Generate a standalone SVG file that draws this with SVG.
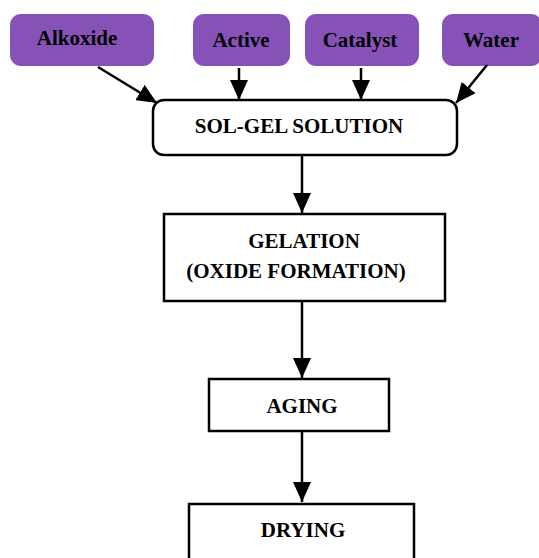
<svg xmlns="http://www.w3.org/2000/svg" width="539" height="558" viewBox="0 0 539 558">
<style>
.in{fill:#8652b7;stroke:none}
.box{fill:#fff;stroke:#000;stroke-width:2.5}
text{font-family:"Liberation Serif","Times New Roman",serif;font-weight:bold;font-size:21px;fill:#000;text-anchor:middle}
.c line{stroke:#000;stroke-width:2.5}
</style>
<defs>
<marker id="ah" markerUnits="userSpaceOnUse" markerWidth="22" markerHeight="18" refX="20" refY="9" orient="auto">
<path d="M0,0 L20,9 L0,18 Z" fill="#000"/>
</marker>
</defs>
<rect width="539" height="558" fill="#fff"/>
<g id="alkoxide"><rect class="in" x="10" y="14" width="144" height="52" rx="11"/><text x="77" y="45">Alkoxide</text></g>
<g id="active"><rect class="in" x="193" y="14" width="97" height="52" rx="11"/><text x="241" y="47">Active</text></g>
<g id="catalyst"><rect class="in" x="305" y="14" width="114" height="52" rx="11"/><text x="360" y="47">Catalyst</text></g>
<g id="water"><rect class="in" x="442" y="14" width="100" height="52" rx="11"/><text x="491" y="47">Water</text></g>
<g id="solgel"><rect class="box" x="153" y="100" width="304" height="55" rx="11"/><text x="299" y="133">SOL-GEL SOLUTION</text></g>
<g id="gelation"><rect class="box" x="164" y="214" width="281" height="87"/><text x="304" y="248">GELATION</text><text x="296" y="278">(OXIDE FORMATION)</text></g>
<g id="aging"><rect class="box" x="209" y="379" width="180" height="52"/><text x="302" y="413">AGING</text></g>
<g id="drying"><rect class="box" x="189" y="504" width="225" height="60"/><text x="303" y="537">DRYING</text></g>
<g class="c" id="connectors">
<line x1="98" y1="67" x2="157" y2="103" marker-end="url(#ah)"/>
<line x1="239" y1="68" x2="239" y2="100" marker-end="url(#ah)"/>
<line x1="361" y1="68" x2="361" y2="100" marker-end="url(#ah)"/>
<line x1="487" y1="65" x2="456" y2="103" marker-end="url(#ah)"/>
<line x1="302" y1="155" x2="302" y2="213" marker-end="url(#ah)"/>
<line x1="302" y1="301" x2="302" y2="378" marker-end="url(#ah)"/>
<line x1="302" y1="431" x2="302" y2="502" marker-end="url(#ah)"/>
</g>
</svg>
